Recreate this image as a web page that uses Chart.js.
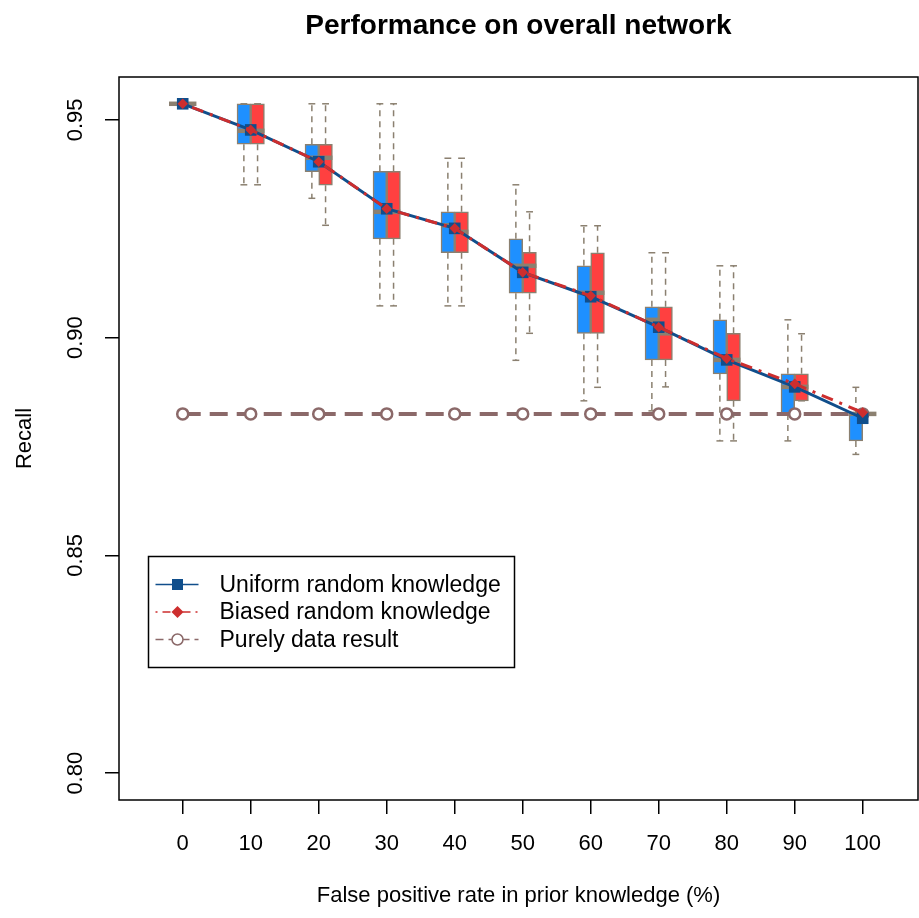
<!DOCTYPE html>
<html>
<head>
<meta charset="utf-8">
<title>Performance on overall network</title>
<script src="https://cdn.jsdelivr.net/npm/chart.js@4.4.0/dist/chart.umd.min.js"></script>
<style>
  html, body { margin: 0; padding: 0; background: #fff; }
  #chart { display: block; }
</style>
</head>
<body>
<canvas id="chart" width="919" height="918"></canvas>
<script>
// x positions: false positive rate in prior knowledge (%)
const fpRates = [0, 10, 20, 30, 40, 50, 60, 70, 80, 90, 100];
const yTicks = [0.80, 0.85, 0.90, 0.95];

// Uniform random knowledge - boxplot stats (blue boxes)
const uniLow  = [0.9537, 0.9351, 0.9320, 0.9073, 0.9073, 0.8948, 0.8855, 0.8832, 0.8763, 0.8763, 0.8732];
const uniQ1   = [0.9537, 0.9444, 0.9381, 0.9227, 0.9195, 0.9102, 0.9010, 0.8949, 0.8917, 0.8825, 0.8763];
const uniMed  = [0.9537, 0.9475, 0.9413, 0.9289, 0.9258, 0.9165, 0.9103, 0.9041, 0.8949, 0.8887, 0.8825];
const uniQ3   = [0.9537, 0.9537, 0.9444, 0.9382, 0.9289, 0.9227, 0.9165, 0.9071, 0.9041, 0.8917, 0.8825];
const uniHigh = [0.9537, 0.9537, 0.9537, 0.9537, 0.9412, 0.9351, 0.9257, 0.9195, 0.9165, 0.9041, 0.8886];

// Biased random knowledge - boxplot stats (red boxes)
const biaLow  = [0.9537, 0.9351, 0.9258, 0.9073, 0.9073, 0.9010, 0.8886, 0.8887, 0.8763, 0.8855, 0.8825];
const biaQ1   = [0.9537, 0.9444, 0.9350, 0.9227, 0.9195, 0.9102, 0.9010, 0.8949, 0.8855, 0.8855, 0.8825];
const biaMed  = [0.9537, 0.9475, 0.9413, 0.9289, 0.9243, 0.9165, 0.9103, 0.9010, 0.8949, 0.8887, 0.8825];
const biaQ3   = [0.9537, 0.9537, 0.9444, 0.9382, 0.9289, 0.9196, 0.9195, 0.9071, 0.9010, 0.8917, 0.8825];
const biaHigh = [0.9537, 0.9537, 0.9537, 0.9537, 0.9412, 0.9289, 0.9257, 0.9195, 0.9165, 0.9009, 0.8825];

// mean lines
const uniformMean = [0.9537, 0.9477, 0.9404, 0.9296, 0.9251, 0.9150, 0.9094, 0.9024, 0.8949, 0.8887, 0.8815];
const biasedMean  = [0.9537, 0.9477, 0.9404, 0.9296, 0.9251, 0.9150, 0.9096, 0.9024, 0.8952, 0.8894, 0.8828];
const purelyData  = [0.8825, 0.8825, 0.8825, 0.8825, 0.8825, 0.8825, 0.8825, 0.8825, 0.8825, 0.8825, 0.8825];

const FONT = '"Liberation Sans", Arial, Helvetica, sans-serif';
const EDGE = '#8b8070';
const BLUE_BOX = '#1e90ff';
const RED_BOX = '#ff4040';
const BLUE_LINE = '#104e8b';
const RED_LINE = '#cd2e2e';
const BROWN = '#8b6969';

function seg(ctx, x1, y1, x2, y2) {
    ctx.beginPath();
    ctx.moveTo(x1, y1);
    ctx.lineTo(x2, y2);
    ctx.stroke();
}

// whiskers, staples and medians for each box dataset
const boxExtras = {
    id: 'boxExtras',
    afterDatasetDraw(chart, args) {
        if (args.meta.type !== 'bar') return;
        const s = chart.data.datasets[args.index].stats;
        const ys = chart.scales.y;
        const ctx = chart.ctx;
        ctx.save();
        ctx.strokeStyle = EDGE;
        args.meta.data.forEach((bar, i) => {
            const x = bar.x, w = bar.width;
            const pHigh = ys.getPixelForValue(s.high[i]);
            const pLow = ys.getPixelForValue(s.low[i]);
            const pQ1 = ys.getPixelForValue(s.q1[i]);
            const pQ3 = ys.getPixelForValue(s.q3[i]);
            const pMed = ys.getPixelForValue(s.med[i]);
            ctx.lineWidth = 1.5;
            ctx.setLineDash([6, 5]);
            if (pHigh < pQ3) seg(ctx, x, pQ3, x, pHigh);
            if (pLow > pQ1) seg(ctx, x, pQ1, x, pLow);
            ctx.setLineDash([]);
            seg(ctx, x - w / 4, pHigh, x + w / 4, pHigh);
            seg(ctx, x - w / 4, pLow, x + w / 4, pLow);
            ctx.lineWidth = 4.5;
            seg(ctx, x - w / 2, pMed, x + w / 2, pMed);
        });
        ctx.restore();
    }
};

// frame, rotated y labels, titles and in-plot legend
const decorations = {
    id: 'decorations',
    afterDraw(chart) {
        const ctx = chart.ctx;
        const a = chart.chartArea;
        const ys = chart.scales.y;
        ctx.save();
        ctx.strokeStyle = '#000';
        ctx.lineWidth = 1.5;
        ctx.strokeRect(a.left, a.top, a.right - a.left, a.bottom - a.top);

        ctx.fillStyle = '#000';
        ctx.textAlign = 'center';
        ctx.textBaseline = 'middle';

        // y tick labels, rotated like R's las = 0
        ctx.font = '22px ' + FONT;
        yTicks.forEach(v => {
            ctx.save();
            ctx.translate(76, ys.getPixelForValue(v));
            ctx.rotate(-Math.PI / 2);
            ctx.fillText(v.toFixed(2), 0, 0);
            ctx.restore();
        });

        // axis titles
        ctx.save();
        ctx.translate(25, (a.top + a.bottom) / 2);
        ctx.rotate(-Math.PI / 2);
        ctx.fillText('Recall', 0, 0);
        ctx.restore();
        ctx.fillText('False positive rate in prior knowledge (%)', (a.left + a.right) / 2, 896);

        // main title
        ctx.font = 'bold 28px ' + FONT;
        ctx.fillText('Performance on overall network', (a.left + a.right) / 2, 26);

        // legend
        const lx = 148.5, ly = 556.5, lw = 366, lh = 111;
        ctx.lineWidth = 1.5;
        ctx.strokeStyle = '#000';
        ctx.strokeRect(lx, ly, lw, lh);
        const rows = [
            { label: 'Uniform random knowledge', color: BLUE_LINE, dash: [], marker: 'square' },
            { label: 'Biased random knowledge', color: RED_LINE, dash: [2, 5, 8, 5], marker: 'diamond' },
            { label: 'Purely data result', color: BROWN, dash: [8, 5], marker: 'circle' }
        ];
        ctx.font = '23px ' + FONT;
        ctx.textAlign = 'left';
        rows.forEach((r, i) => {
            const cy = ly + 28 + i * 27.5;
            const mx = lx + 29;
            ctx.strokeStyle = r.color;
            ctx.fillStyle = r.color;
            ctx.lineWidth = 1.5;
            ctx.setLineDash(r.dash);
            seg(ctx, lx + 7, cy, lx + 50, cy);
            ctx.setLineDash([]);
            if (r.marker === 'square') {
                ctx.fillRect(mx - 5.5, cy - 5.5, 11, 11);
            } else if (r.marker === 'diamond') {
                ctx.beginPath();
                ctx.moveTo(mx, cy - 6); ctx.lineTo(mx + 6, cy);
                ctx.lineTo(mx, cy + 6); ctx.lineTo(mx - 6, cy);
                ctx.closePath();
                ctx.fill();
            } else {
                ctx.beginPath();
                ctx.arc(mx, cy, 5.5, 0, Math.PI * 2);
                ctx.fillStyle = '#fff';
                ctx.fill();
                ctx.stroke();
            }
            ctx.fillStyle = '#000';
            ctx.fillText(r.label, lx + 71, cy + 1);
        });
        ctx.restore();
    }
};

const ctx = document.getElementById('chart').getContext('2d');

new Chart(ctx, {
    type: 'bar',
    data: {
        datasets: [
            {
                label: 'Uniform boxes',
                data: fpRates.map((x, i) => ({ x: x, y: [uniQ1[i], uniQ3[i]] })),
                stats: { low: uniLow, q1: uniQ1, med: uniMed, q3: uniQ3, high: uniHigh },
                backgroundColor: BLUE_BOX,
                borderColor: EDGE,
                borderWidth: 1.5,
                borderSkipped: false,
                barThickness: 13.7,
                order: 10
            },
            {
                label: 'Biased boxes',
                data: fpRates.map((x, i) => ({ x: x, y: [biaQ1[i], biaQ3[i]] })),
                stats: { low: biaLow, q1: biaQ1, med: biaMed, q3: biaQ3, high: biaHigh },
                backgroundColor: RED_BOX,
                borderColor: EDGE,
                borderWidth: 1.5,
                borderSkipped: false,
                barThickness: 13.7,
                order: 10
            },
            {
                type: 'line',
                label: 'Purely data result',
                data: fpRates.map((x, i) => ({ x: x, y: purelyData[i] })),
                borderColor: BROWN,
                borderWidth: 4,
                borderDash: [18, 9],
                pointStyle: 'circle',
                pointRadius: 5.5,
                pointBorderWidth: 2.5,
                pointBorderColor: BROWN,
                pointBackgroundColor: '#fff',
                order: 3
            },
            {
                type: 'line',
                label: 'Uniform random knowledge',
                data: fpRates.map((x, i) => ({ x: x, y: uniformMean[i] })),
                borderColor: BLUE_LINE,
                borderWidth: 3,
                pointStyle: 'rect',
                pointRadius: 8.2,
                pointBorderWidth: 0,
                pointBackgroundColor: BLUE_LINE,
                pointBorderColor: BLUE_LINE,
                order: 2
            },
            {
                type: 'line',
                label: 'Biased random knowledge',
                data: fpRates.map((x, i) => ({ x: x, y: biasedMean[i] })),
                borderColor: RED_LINE,
                borderWidth: 3,
                borderDash: [3, 7, 12, 7],
                pointStyle: 'rectRot',
                pointRadius: 5.3,
                pointBorderWidth: 0,
                pointBackgroundColor: RED_LINE,
                pointBorderColor: RED_LINE,
                order: 1
            }
        ]
    },
    options: {
        responsive: false,
        animation: false,
        layout: { autoPadding: false, padding: { top: 77, right: 1, left: 0, bottom: 0 } },
        plugins: {
            legend: { display: false },
            tooltip: { enabled: false },
            title: { display: false }
        },
        scales: {
            x: {
                type: 'linear',
                min: -9.37,
                max: 108.13,
                offset: false,
                border: { display: false },
                grid: {
                    display: true,
                    offset: false,
                    drawOnChartArea: false,
                    drawTicks: true,
                    tickLength: 14,
                    color: '#000',
                    lineWidth: 1.5
                },
                ticks: {
                    color: '#000',
                    font: { family: FONT, size: 22 },
                    padding: 17,
                    autoSkip: false,
                    maxRotation: 0
                },
                afterBuildTicks: s => { s.ticks = fpRates.map(v => ({ value: v })); },
                afterFit: s => {
                    s.height = 118;
                    s.paddingLeft = 0;
                    s.paddingRight = 0;
                }
            },
            y: {
                type: 'linear',
                min: 0.79385,
                max: 0.95985,
                border: { display: false },
                grid: {
                    display: true,
                    drawOnChartArea: false,
                    drawTicks: true,
                    tickLength: 14,
                    color: '#000',
                    lineWidth: 1.5
                },
                ticks: { display: false },
                afterBuildTicks: s => { s.ticks = yTicks.map(v => ({ value: v })); },
                afterFit: s => {
                    s.width = 119;
                    s.paddingTop = 0;
                    s.paddingBottom = 0;
                }
            }
        }
    },
    plugins: [boxExtras, decorations]
});
</script>
</body>
</html>
